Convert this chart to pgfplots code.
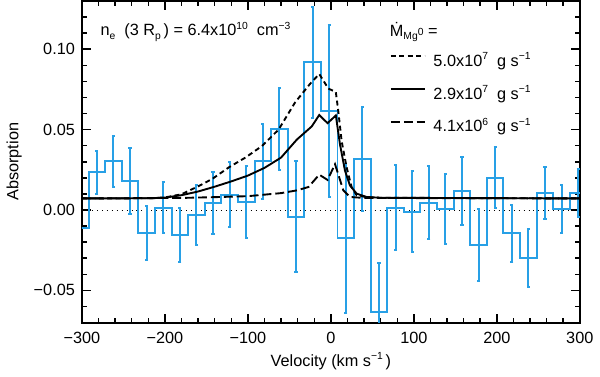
\documentclass[border=0pt]{standalone}
\usepackage{fontspec}
\setmainfont{Liberation Sans}
\usepackage{pgfplots}
\usepackage{pgfplotstable}
\pgfplotsset{compat=1.18}

\definecolor{histblue}{RGB}{40,160,230}
\newcommand{\fs}{\fontsize{8.2}{9.8}\selectfont}
\newcommand{\sps}[1]{\raisebox{0.42em}{\fontsize{5.2}{5.2}\selectfont #1}}
\newcommand{\sbs}[1]{\raisebox{-0.22em}{\fontsize{5.2}{5.2}\selectfont #1}}

% binned absorption (bin centres), with padding rows so the steps reach the frame
\pgfplotstableread{
v a
-302 -0.011
-282 0.0234
-262 0.0303
-242 0.0178
-222 -0.0143
-202 0.0015
-182 -0.0158
-162 -0.0031
-142 0.0043
-122 0.0096
-102 0.0051
-82 0.0304
-62 0.0504
-42 -0.0041
-22 0.0918
-2 0.0617
18 -0.0177
38 0.0318
58 -0.0637
78 0.0015
98 -0.0010
118 0.0045
138 0.0005
158 0.0118
178 -0.0217
198 0.0201
218 -0.0146
238 -0.0299
258 0.0108
278 0.0008
298 0.0107
318 0.0107
}\histsteps

\pgfplotstableread{
v a e
-282 0.0234 0.0133
-262 0.0303 0.0160
-242 0.0178 0.0205
-222 -0.0143 0.0168
-202 0.0015 0.0158
-182 -0.0158 0.0168
-162 -0.0031 0.0184
-142 0.0043 0.0192
-122 0.0096 0.0204
-102 0.0051 0.0224
-82 0.0304 0.0233
-62 0.0504 0.0255
-42 -0.0041 0.0347
-22 0.0918 0.0343
-2 0.0617 0.0535
18 -0.0177 0.0464
38 0.0318 0.0323
58 -0.0637 0.0310
78 0.0015 0.0264
98 -0.0010 0.0250
118 0.0045 0.0228
138 0.0005 0.0219
158 0.0118 0.0214
178 -0.0217 0.0222
198 0.0201 0.0190
218 -0.0146 0.0180
238 -0.0299 0.0180
258 0.0108 0.0162
278 0.0008 0.0150
298 0.0107 0.0148
}\histbars

\begin{document}
\begin{tikzpicture}
\begin{axis}[
  width=250.85pt, height=162pt, scale only axis,
  xmin=-300, xmax=300, ymin=-0.07, ymax=0.13,
  xtick={-300,-200,-100,0,100,200,300},
  xticklabels={−300,−200,−100,0,100,200,300},
  ytick={-0.05,0,0.05,0.10},
  yticklabels={−0.05,0.00,0.05,0.10},
  minor xtick={-280,-260,...,280},
  minor ytick={-0.06,-0.04,-0.03,-0.02,-0.01,0.01,0.02,0.03,0.04,0.06,0.07,0.08,0.09,0.11,0.12},
  tick align=inside, xtick pos=both, ytick pos=both,
  major tick length=4.5pt, minor tick length=2.5pt,
  every tick/.style={black, line width=0.75pt},
  axis line style={line width=1pt},
  tick label style={font=\fs},
  xticklabel style={yshift=-1.5pt},
  label style={font=\fs},
  xlabel={Velocity (km s\sps{−1}\,)},
  ylabel={Absorption},
  xlabel style={at={(axis description cs:0.5,-0.121)}, anchor=center},
  ylabel style={at={(axis description cs:-0.136,0.5)}, anchor=center},
  legend style={at={(axis cs:70.7,0.0970)}, anchor=north west,
    draw=none, fill=none, font=\fs, inner sep=0pt, row sep=8.9pt,
    nodes={inner sep=0pt, text height=6pt, text depth=1.6pt},
    /tikz/every odd column/.append style={column sep=4pt}},
  legend cell align=left,
  legend image code/.code={\draw[#1] (0pt,2.8pt) -- (17pt,2.8pt);},
]
\addplot[black, dotted, line width=0.5pt, forget plot] coordinates {(-300,0) (300,0)};

\addplot[histblue, line width=1pt, const plot mark mid, forget plot]
  table[x=v, y=a] {\histsteps};
\addplot[draw=none, mark=none, forget plot,
  error bars/.cd, y dir=both, y explicit,
  error bar style={draw=histblue, line width=1pt},
  error mark options={draw=histblue, rotate=90, mark size=0.8pt, line width=1pt}]
  table[x=v, y=a, y error=e] {\histbars};

\addplot[black, line width=0.95pt, dash pattern=on 2.5pt off 1.75pt] coordinates {
  (-300,0.0072) (-220,0.0073) (-200,0.0078) (-180,0.0098) (-160,0.0147)
  (-143,0.0193) (-123,0.0265) (-103,0.0326) (-83,0.0398) (-63,0.0500)
  (-43,0.0670) (-25,0.0785) (-14,0.0846) (-3,0.0755) (6,0.0734) (9,0.0612)
  (13,0.0428) (19,0.0265) (25,0.0143) (31,0.0092) (43,0.0080) (60,0.0076)
  (300,0.0072)};
\addlegendentry{5.0x10\sps{7}\ \ g s\sps{−1}}

\addplot[black, line width=0.95pt] coordinates {
  (-300,0.0072) (-220,0.0073) (-200,0.0077) (-180,0.0092) (-160,0.0115)
  (-140,0.0145) (-120,0.0178) (-100,0.0214) (-80,0.0262) (-60,0.0326)
  (-50,0.0385) (-41,0.0438) (-23,0.0520) (-14,0.0591) (-4,0.0540)
  (6,0.0588) (11,0.0408) (17,0.0245) (23,0.0153) (31,0.0102) (43,0.0081)
  (60,0.0076) (300,0.0072)};
\addlegendentry{2.9x10\sps{7}\ \ g s\sps{−1}}

\addplot[black, line width=0.95pt, dash pattern=on 4.5pt off 2pt] coordinates {
  (-300,0.0072) (-180,0.0075) (-140,0.0080) (-100,0.0086) (-60,0.0105)
  (-41,0.0122) (-27,0.0143) (-14,0.0220) (-4,0.0187) (5,0.0285) (10,0.0204)
  (15,0.0122) (23,0.0081) (40,0.0075) (300,0.0072)};
\addlegendentry{4.1x10\sps{6}\ \ g s\sps{−1}}

\node[anchor=base west, font=\fs, inner sep=0pt] at (axis cs:-278,0.1083)
  {n\sbs{e}\ \ (3 R\sbs{p}\,) = 6.4x10\sps{10}\ \ cm\sps{−3}};
\node[anchor=base west, font=\fs, inner sep=0pt] at (axis cs:70.7,0.1080)
  {Ṁ\sbs{Mg\sps{0}}\ =};
\end{axis}
\end{tikzpicture}
\end{document}
